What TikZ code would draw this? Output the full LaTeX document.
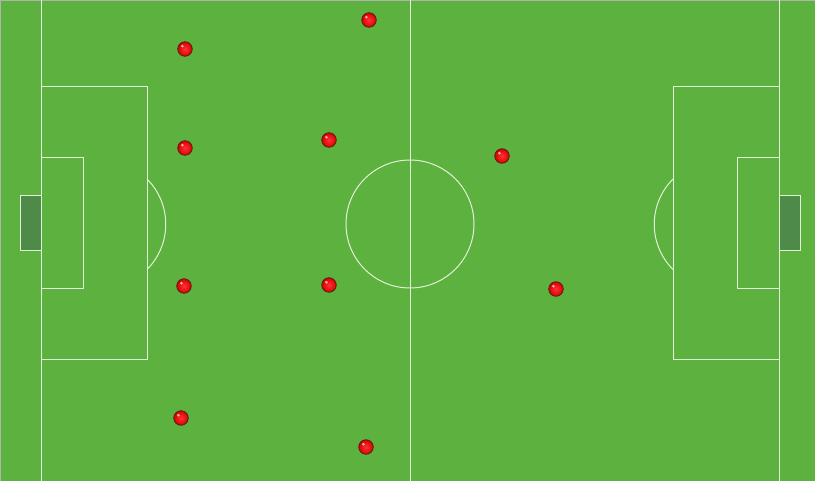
\documentclass[tikz,border=0pt]{standalone}
\definecolor{pitch}{HTML}{5DB13E}
\definecolor{pline}{HTML}{E2F2D8}
\definecolor{goalc}{HTML}{4E8A48}
\definecolor{pred}{HTML}{F20000}
\definecolor{pedge}{HTML}{5A1A10}
\begin{document}
\begin{tikzpicture}[x=1pt,y=-1pt,
  fieldline/.style={draw=pline,line width=1pt},
  goalbox/.style={fill=goalc,draw=pline,line width=1pt},
  player/.style={circle,minimum size=14.5pt,inner sep=0pt,draw=pedge,line width=0.8pt,
    inner color=red!80!white,outer color=red!85!black,
    path picture={\fill[white,opacity=0.7] ([xshift=-2.6pt,yshift=2.8pt]path picture bounding box.center) circle (1.4pt);}}]
\useasboundingbox (0,0) rectangle (815,481);
\fill[pitch] (0,0) rectangle (815,481);
\draw[gray!60,line width=0.8pt] (0.4,481) -- (0.4,0.4) -- (815,0.4);
% touchlines and halfway line
\draw[fieldline] (41,0) -- (41,481);
\draw[fieldline] (779,0) -- (779,481);
\draw[fieldline] (410,0) -- (410,481);
\draw[fieldline] (410,224) circle (64);
% left side
\draw[fieldline] (41,87) rectangle (147,360);
\draw[fieldline] (41,158) rectangle (83,289);
\draw[goalbox] (20,196) rectangle (41,251);
\draw[fieldline] (147,179) arc[start angle=-45,end angle=45,radius=64];
% right side
\draw[fieldline] (673,87) rectangle (779,360);
\draw[fieldline] (737,158) rectangle (779,289);
\draw[goalbox] (779,196) rectangle (800,251);
\draw[fieldline] (673,179) arc[start angle=225,end angle=135,radius=64];
% players
\node[player] (p1) at (185,49) {};
\node[player] (p2) at (369,20) {};
\node[player] (p3) at (185,148) {};
\node[player] (p4) at (329,140) {};
\node[player] (p5) at (502,156) {};
\node[player] (p6) at (184,286) {};
\node[player] (p7) at (329,285) {};
\node[player] (p8) at (556,289) {};
\node[player] (p9) at (181,418) {};
\node[player] (p10) at (366,447) {};
\end{tikzpicture}
\end{document}
